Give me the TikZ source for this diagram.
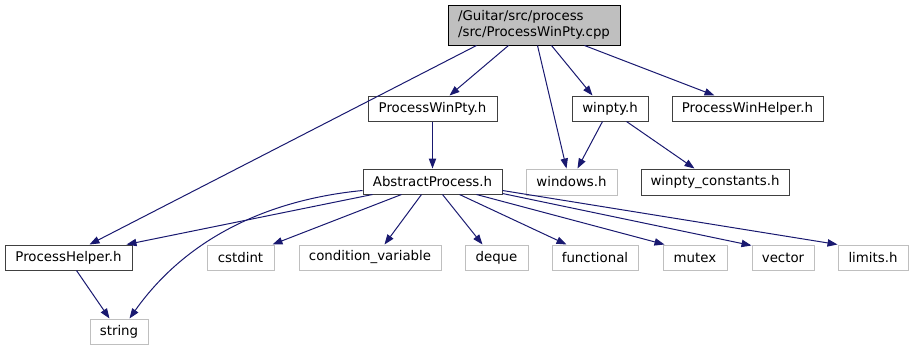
\documentclass[tikz,border=0pt]{standalone}
\usepackage{fontspec}
\setmainfont{DejaVu Sans}
\usetikzlibrary{arrows.meta,calc}
\definecolor{edgeblue}{HTML}{191970}
\definecolor{docborder}{HTML}{404040}
\definecolor{extborder}{HTML}{BFBFBF}
\definecolor{rootfill}{HTML}{BFBFBF}
\tikzset{
  gbase/.style={draw, line width=0.75pt, inner sep=0pt, font=\fontsize{10}{12}\selectfont, align=center},
  docnode/.style={gbase, draw=docborder},
  extnode/.style={gbase, draw=extborder},
  rootnode/.style={gbase, draw=black, fill=rootfill, align=left},
  edge/.style={draw=edgeblue, line width=0.75pt, -{Triangle[length=7.5pt,width=5.5pt,fill=edgeblue]}}
}
\newcommand\gnode[7]{\node[#6, minimum width={(#4-#2)*0.75pt}, minimum height={(#5-#3)*0.75pt}] (#1) at ({(#2+#4)/2},{(#3+#5)/2}) {#7};}
\begin{document}
\begin{tikzpicture}[x=0.75pt,y=-0.75pt]
\useasboundingbox (0,0) rectangle (915,351);
\gnode{root}{448}{5}{620}{45}{rootnode}{/Guitar/src/process\\/src/ProcessWinPty.cpp}
\gnode{pwp}{368}{96}{497}{121}{docnode}{ProcessWinPty.h}
\gnode{wp}{572}{96}{648}{121}{docnode}{winpty.h}
\gnode{pwh}{672}{96}{823}{121}{docnode}{ProcessWinHelper.h}
\gnode{win}{526}{169}{617}{195}{extnode}{windows.h}
\gnode{wc}{641}{169}{789}{195}{docnode}{winpty\_constants.h}
\gnode{ap}{363}{169}{502}{194}{docnode}{AbstractProcess.h}
\gnode{ph}{5}{245}{132}{270}{docnode}{ProcessHelper.h}
\gnode{cstd}{207}{245}{274}{270}{extnode}{cstdint}
\gnode{cv}{299}{245}{441}{270}{extnode}{condition\_variable}
\gnode{deq}{465}{245}{528}{270}{extnode}{deque}
\gnode{func}{552}{245}{638}{270}{extnode}{functional}
\gnode{mut}{663}{245}{727}{270}{extnode}{mutex}
\gnode{vec}{752}{245}{814}{270}{extnode}{vector}
\gnode{lim}{838}{245}{908}{270}{extnode}{limits.h}
\gnode{str}{90}{319}{148}{344}{extnode}{string}
% edges from root
\draw[edge] ($(root.south west)+(29,0)$) -- ($(ph.north west)+(85,0)$);
\draw[edge] ($(root.south west)+(61,0)$) -- ($(pwp.north west)+(82,0)$);
\draw[edge] ($(root.south west)+(90,0)$) -- ($(win.north west)+(41,0)$);
\draw[edge] ($(root.south west)+(104,0)$) -- ($(wp.north west)+(21,0)$);
\draw[edge] ($(root.south west)+(137,0)$) -- ($(pwh.north west)+(43,0)$);
% ProcessWinPty.h
\draw[edge] (pwp.south) -- (ap.north);
% winpty.h
\draw[edge] ($(wp.south west)+(31,0)$) -- ($(win.north west)+(52,0)$);
\draw[edge] ($(wp.south west)+(55,0)$) -- ($(wc.north west)+(54,0)$);
% AbstractProcess.h
\draw[edge] ($(ap.south west)+(10,0)$) -- ($(ph.north east)+(-6,0)$);
\draw[edge] ($(ap.north west)+(0,22)$) .. controls (265,200) and (185,240) .. ($(str.north west)+(40,0)$);
\draw[edge] ($(ap.south west)+(39,0)$) -- ($(cstd.north west)+(66,0)$);
\draw[edge] ($(ap.south west)+(59,0)$) -- ($(cv.north west)+(86,0)$);
\draw[edge] ($(ap.south west)+(80,0)$) -- ($(deq.north west)+(18,0)$);
\draw[edge] ($(ap.south west)+(97,0)$) -- ($(func.north west)+(15,0)$);
\draw[edge] ($(ap.south west)+(114,0)$) -- ($(mut.north west)+(2,0)$);
\draw[edge] ($(ap.south east)+(0,-1)$) -- ($(vec.north west)+(0,1)$);
\draw[edge] ($(ap.south east)+(0,-4)$) -- ($(lim.north west)+(0,0)$);
% ProcessHelper.h
\draw[edge] ($(ph.south west)+(72,0)$) -- ($(str.north west)+(20,0)$);
\end{tikzpicture}
\end{document}
